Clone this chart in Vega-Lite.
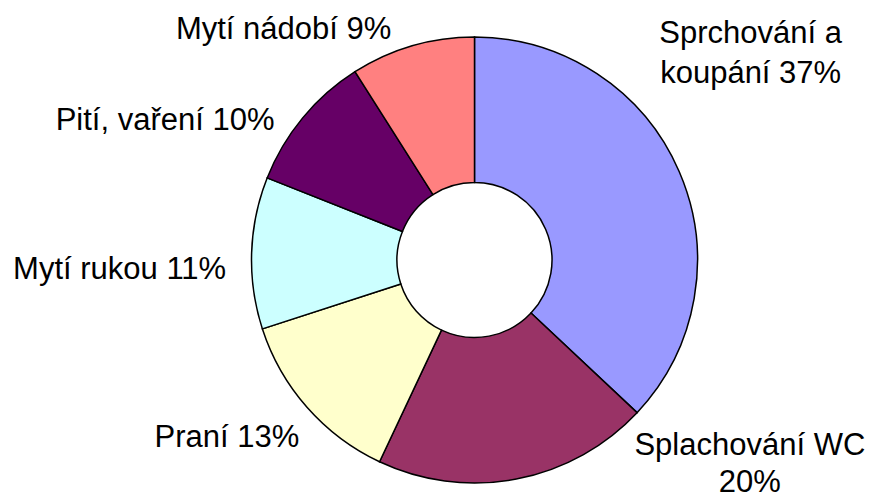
{
  "$schema": "https://vega.github.io/schema/vega-lite/v6.json",
  "width": 797,
  "height": 480,
  "autosize": {"type": "none"},
  "padding": {"left": 76, "top": 20, "right": 0, "bottom": 0},
  "background": "white",
  "view": {"stroke": null},
  "data": {
    "values": [
      {"idx": 1, "cat": "Sprchování a koupání", "value": 37, "label": "Sprchování a\nkoupání 37%"},
      {"idx": 2, "cat": "Splachování WC", "value": 20, "label": "Splachování WC\n20%"},
      {"idx": 3, "cat": "Praní", "value": 13, "label": "Praní 13%"},
      {"idx": 4, "cat": "Mytí rukou", "value": 11, "label": "Mytí rukou 11%"},
      {"idx": 5, "cat": "Pití, vaření", "value": 10, "label": "Pití, vaření 10%"},
      {"idx": 6, "cat": "Mytí nádobí", "value": 9, "label": "Mytí nádobí 9%"}
    ]
  },
  "encoding": {
    "theta": {"field": "value", "type": "quantitative", "stack": true},
    "order": {"field": "idx", "type": "quantitative"}
  },
  "layer": [
    {
      "mark": {"type": "arc", "radius": 223, "radius2": 77.5, "stroke": "black", "strokeWidth": 1.5},
      "encoding": {
        "color": {
          "field": "cat",
          "type": "nominal",
          "scale": {
            "domain": ["Sprchování a koupání", "Splachování WC", "Praní", "Mytí rukou", "Pití, vaření", "Mytí nádobí"],
            "range": ["#9999FF", "#993366", "#FFFFCC", "#CCFFFF", "#660066", "#FF8080"]
          },
          "legend": null
        }
      }
    },
    {
      "mark": {
        "type": "text",
        "radius": 290,
        "font": "Liberation Sans",
        "fontSize": 31,
        "color": "black",
        "align": "center",
        "baseline": "alphabetic",
        "lineBreak": "\n",
        "lineHeight": {"expr": "datum.idx == 2 ? 37 : 40"},
        "dx": {"expr": "datum.idx == 1 ? 10 : datum.idx == 2 ? 221 : datum.idx == 3 ? -30 : datum.idx == 4 ? -65 : datum.idx == 5 ? -86 : -110"},
        "dy": {"expr": "datum.idx == 1 ? -102 : datum.idx == 2 ? -90 : datum.idx == 3 ? -5 : datum.idx == 4 ? 28 : datum.idx == 5 ? 55 : 57"}
      },
      "encoding": {
        "text": {"field": "label"}
      }
    }
  ]
}
